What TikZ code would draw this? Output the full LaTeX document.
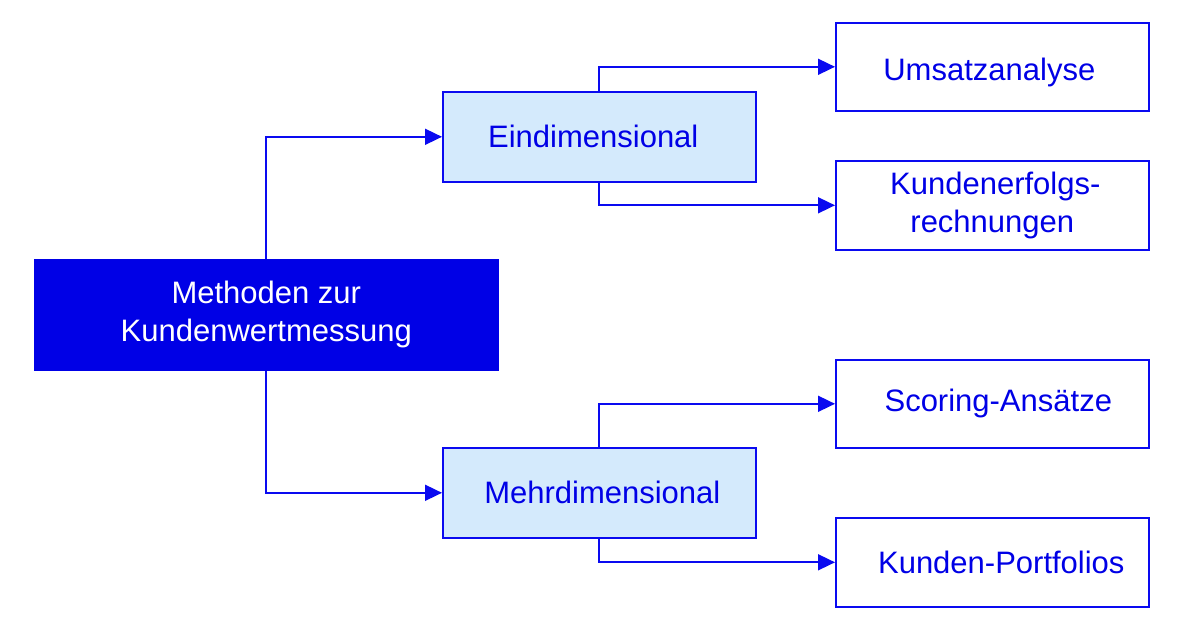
\documentclass[tikz,border=0pt]{standalone}
\usepackage{fontspec}
\setmainfont{Liberation Sans}
\usetikzlibrary{arrows.meta}
\definecolor{dblue}{RGB}{0,0,230}
\definecolor{lblue}{RGB}{212,234,252}
\definecolor{lineblue}{RGB}{10,10,240}
\begin{document}
\begin{tikzpicture}[x=1pt,y=-1pt,
  box/.style={draw=lineblue,line width=1.6pt,inner sep=0pt,anchor=north west,
    align=center,text=dblue,font=\fontsize{31}{38}\selectfont},
  link/.style={draw=lineblue,line width=1.7pt,-{Triangle[length=17pt,width=16pt]}}]
\useasboundingbox (0,0) rectangle (1184,630);
\node[box,fill=dblue,draw=dblue,text=white,minimum width=463pt,minimum height=110pt] (root) at (34,259) {Methoden zur\\Kundenwertmessung};
\node[box,fill=lblue,minimum width=313pt,minimum height=90pt] (ein) at (442,91) {Eindimensional\hspace*{12pt}};
\node[box,fill=lblue,minimum width=313pt,minimum height=90pt] (mehr) at (442,447) {\hspace*{6pt}Mehrdimensional};
\node[box,fill=white,minimum width=313pt,minimum height=88pt] (ums) at (835,22) {\raisebox{-6pt}[\height][\depth]{Umsatzanalyse}\hspace*{6pt}};
\node[box,fill=white,minimum width=313pt,minimum height=89pt] (kund) at (835,160) {\hspace*{6pt}Kundenerfolgs-\\rechnungen};
\node[box,fill=white,minimum width=313pt,minimum height=88pt] (scor) at (835,359) {\hspace*{12pt}Scoring-Ansätze};
\node[box,fill=white,minimum width=313pt,minimum height=89pt] (port) at (835,517) {\hspace*{18pt}Kunden-Portfolios};
\draw[link] (root.north) |- (ein.west);
\draw[link] (root.south) |- (mehr.west);
\draw[link] (ein.north) |- (ums.west);
\draw[link] (ein.south) |- (kund.west);
\draw[link] (mehr.north) |- (scor.west);
\draw[link] (mehr.south) |- (port.west);
\end{tikzpicture}
\end{document}
